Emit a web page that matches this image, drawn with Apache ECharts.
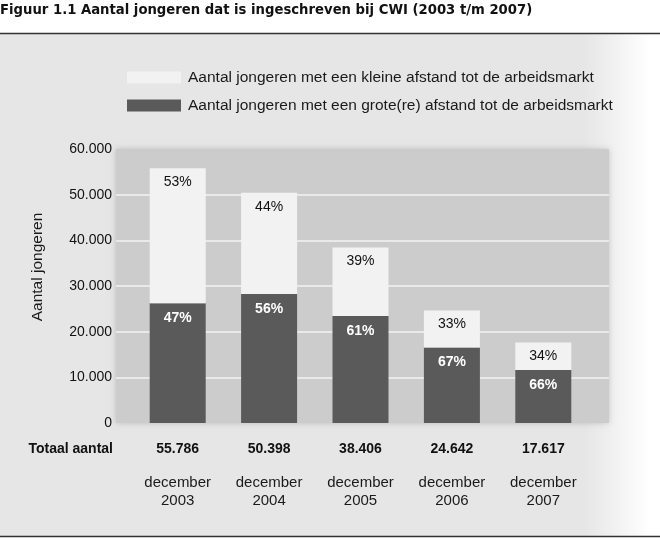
<!DOCTYPE html>
<html>
<head>
<meta charset="utf-8">
<script src="https://cdn.jsdelivr.net/npm/echarts@6/dist/echarts.min.js"></script>
<style>
  html, body { margin: 0; padding: 0; background: #fff; }
  #chart { width: 660px; height: 538px; }
</style>
</head>
<body>
<div id="chart"></div>
<script>
// jaren (december van elk jaar)
const jaren = ["2003", "2004", "2005", "2006", "2007"];
const totaal = [55786, 50398, 38406, 24642, 17617];
// kleine afstand tot de arbeidsmarkt
const kleine = [29567, 22175, 14978, 8132, 5990];
// grote(re) afstand tot de arbeidsmarkt
const grote = [26219, 28223, 23428, 16510, 11627];
const pctKleine = [53, 44, 39, 33, 34];
const pctGrote = [47, 56, 61, 67, 66];
const yTicks = [0, 10000, 20000, 30000, 40000, 50000, 60000];

const NARROW = '"DejaVu Sans Condensed", "Liberation Sans Narrow", sans-serif';
const SANS = '"Liberation Sans", Arial, sans-serif';

function fmt(v) {
  return String(v).replace(/\B(?=(\d{3})+(?!\d))/g, ".");
}

let myChart = echarts.init(document.getElementById("chart"));

let option = {
  animation: false,
  backgroundColor: "#ffffff",
  title: {
    text: "Figuur 1.1 Aantal jongeren dat is ingeschreven bij CWI (2003 t/m 2007)",
    left: 0,
    top: 3,
    padding: 0,
    textStyle: { fontFamily: NARROW, fontSize: 14.7, fontWeight: "bold", color: "#111" },
  },
  graphic: [
    {
      type: "rect",
      z: -10,
      shape: { x: 0, y: 34, width: 660, height: 502 },
      style: {
        fill: {
          type: "linear", x: 0, y: 0, x2: 1, y2: 0,
          colorStops: [
            { offset: 0, color: "#e6e6e6" },
            { offset: 0.885, color: "#e6e6e6" },
            { offset: 0.985, color: "#ffffff" },
            { offset: 1, color: "#ffffff" },
          ],
        },
      },
    },
    { type: "line", shape: { x1: 0, y1: 33.5, x2: 660, y2: 33.5 }, style: { stroke: "#333", lineWidth: 1.5 } },
    { type: "line", shape: { x1: 0, y1: 536.5, x2: 660, y2: 536.5 }, style: { stroke: "#333", lineWidth: 1.5 } },
    {
      type: "text",
      x: 113,
      y: 449,
      style: {
        text: "Totaal aantal",
        align: "right",
        verticalAlign: "middle",
        font: "bold 14px " + SANS,
        fill: "#111",
      },
    },
    {
      type: "text",
      x: 38,
      y: 267,
      rotation: Math.PI / 2,
      style: {
        text: "Aantal jongeren",
        align: "center",
        verticalAlign: "middle",
        font: "15.5px " + SANS,
        fill: "#1a1a1a",
      },
    },
  ],
  legend: {
    orient: "vertical",
    left: 127,
    top: 69.5,
    padding: 0,
    itemWidth: 54,
    itemHeight: 12,
    itemGap: 12,
    icon: "rect",
    data: ["Aantal jongeren met een kleine afstand tot de arbeidsmarkt", "Aantal jongeren met een grote(re) afstand tot de arbeidsmarkt"],
    textStyle: { fontFamily: SANS, fontSize: 15.5, lineHeight: 16, color: "#1a1a1a", padding: [0, 0, 0, 2] },
  },
  grid: [
    {
      left: 116, top: 149, width: 493, height: 274,
      show: true,
      backgroundColor: "#cccccc",
      borderWidth: 0,
      shadowBlur: 6,
      shadowColor: "rgba(0,0,0,0.18)",
    },
    { left: 132, top: 149, width: 457, height: 274 },
  ],
  xAxis: [
    { gridIndex: 0, type: "value", show: false },
    {
      gridIndex: 1,
      type: "category",
      data: jaren,
      axisLine: { show: false },
      axisTick: { show: false },
      axisLabel: {
        margin: 16,
        interval: 0,
        formatter: (val, i) => "{t|" + fmt(totaal[i]) + "}\n{s| }\n{d|december}\n{d|" + val + "}",
        rich: {
          t: { fontFamily: SANS, fontSize: 14, fontWeight: "bold", color: "#111", lineHeight: 20, align: "center" },
          s: { fontSize: 10, lineHeight: 15 },
          d: { fontFamily: SANS, fontSize: 15, color: "#1a1a1a", lineHeight: 18, align: "center" },
        },
      },
    },
  ],
  yAxis: [
    {
      gridIndex: 0,
      type: "value",
      min: 0,
      max: 60000,
      interval: 10000,
      axisLine: { show: false },
      axisTick: { show: false },
      axisLabel: {
        margin: 4,
        fontFamily: SANS,
        fontSize: 14,
        color: "#111",
        formatter: (v) => (yTicks.indexOf(v) >= 0 ? fmt(v) : ""),
      },
      splitLine: { showMinLine: false, showMaxLine: false, lineStyle: { color: "#e9e9e9", width: 2 } },
    },
    { gridIndex: 1, type: "value", min: 0, max: 60000, interval: 10000, show: false, splitLine: { show: false } },
  ],
  series: [
    {
      name: "Aantal jongeren met een grote(re) afstand tot de arbeidsmarkt",
      type: "bar",
      xAxisIndex: 1,
      yAxisIndex: 1,
      stack: "totaal",
      barWidth: 56,
      data: grote,
      itemStyle: { color: "#5a5a5a" },
      label: {
        show: true,
        position: "insideTop",
        distance: 8,
        fontFamily: SANS,
        fontSize: 14,
        fontWeight: "bold",
        color: "#ffffff",
        formatter: (p) => pctGrote[p.dataIndex] + "%",
      },
    },
    {
      name: "Aantal jongeren met een kleine afstand tot de arbeidsmarkt",
      type: "bar",
      xAxisIndex: 1,
      yAxisIndex: 1,
      stack: "totaal",
      barWidth: 56,
      data: kleine,
      itemStyle: { color: "#f2f2f2" },
      label: {
        show: true,
        position: "insideTop",
        distance: 7,
        fontFamily: SANS,
        fontSize: 14,
        color: "#111",
        formatter: (p) => pctKleine[p.dataIndex] + "%",
      },
    },
  ],
};

myChart.setOption(option);
</script>
</body>
</html>
